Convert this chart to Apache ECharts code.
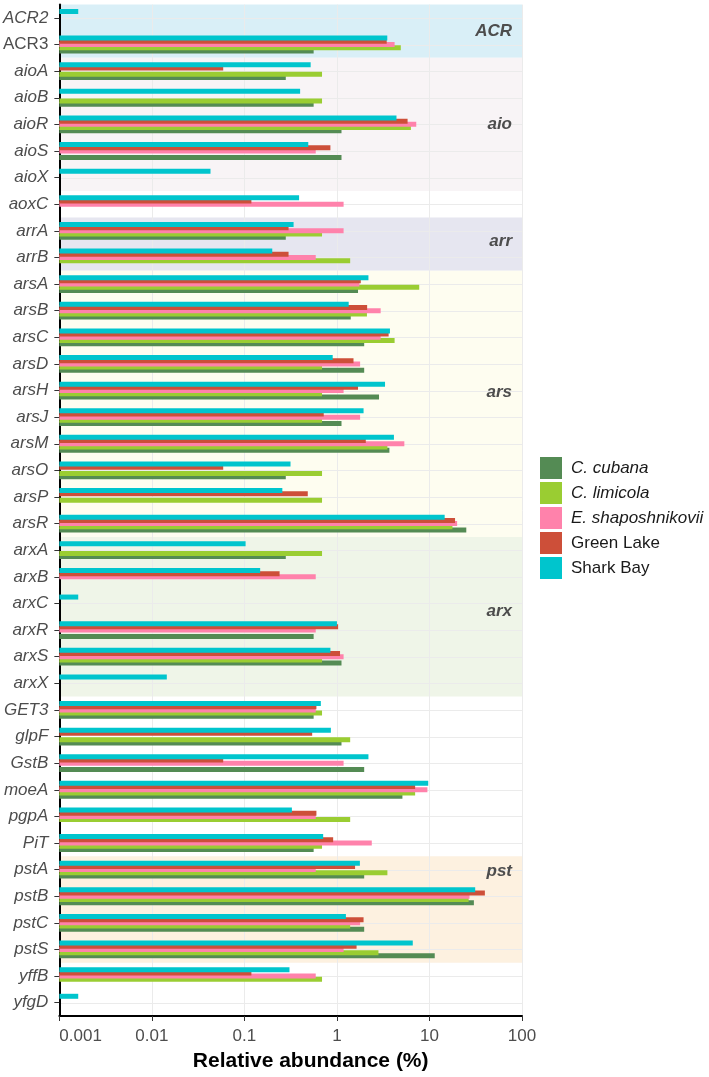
<!DOCTYPE html>
<html>
<head>
<meta charset="utf-8">
<script src="https://cdn.jsdelivr.net/npm/echarts@6/dist/echarts.min.js"></script>
<style>html,body{margin:0;background:#fff}#chart{width:709px;height:1077px}</style>
</head>
<body>
<div id="chart"></div>
<script>
// genes, top to bottom
const genes=["ACR2","ACR3","aioA","aioB","aioR","aioS","aioX","aoxC","arrA","arrB",
  "arsA","arsB","arsC","arsD","arsH","arsJ","arsM","arsO","arsP","arsR",
  "arxA","arxB","arxC","arxR","arxS","arxX","GET3","glpF","GstB","moeA",
  "pgpA","PiT","pstA","pstB","pstC","pstS","yffB","yfgD"];
const uprightGenes=["ACR3"];

// relative abundance (%), null = not found
const sharkBay=[0.0016,3.5,0.52,0.40,4.4,0.49,0.043,0.39,0.34,0.20,2.19,1.34,3.74,0.90,3.31,1.94,4.13,0.315,0.257,14.6,0.103,0.148,0.0016,1.0,0.85,0.0145,0.67,0.86,2.19,9.7,0.326,0.71,1.77,31.2,1.25,6.6,0.307,0.0016];
const greenLake=[null,3.45,0.059,null,5.8,0.85,null,0.119,0.30,0.30,1.81,2.12,3.62,1.51,1.69,0.72,2.05,0.059,0.484,18.9,null,0.24,null,1.03,1.08,null,0.60,0.54,0.059,7.0,0.60,0.91,1.57,39.7,1.94,1.63,0.119,null];
const eShaposhnikovii=[null,4.2,null,null,7.2,0.59,null,1.18,1.18,0.59,1.75,2.97,2.97,1.78,1.18,1.78,5.35,null,null,19.9,null,0.59,null,0.59,1.18,null,0.59,null,1.18,9.5,0.59,2.38,0.59,27.1,1.78,1.18,0.59,null];
const cLimicola=[null,4.9,0.69,0.69,6.3,null,null,null,0.69,1.39,7.75,2.11,4.2,0.69,0.69,0.69,3.51,0.69,0.69,17.7,0.69,null,null,null,0.69,null,0.69,1.39,null,7.0,1.39,0.69,3.51,26.5,1.39,2.81,0.69,null];
const cCubana=[null,0.56,0.28,0.56,1.12,1.12,null,null,0.28,null,1.69,1.41,1.97,1.97,2.85,1.12,3.69,0.28,null,25.0,0.28,null,null,0.56,1.12,null,0.56,1.12,1.97,5.1,null,0.56,1.97,30.2,1.97,11.4,null,null];

const legendOrder=["C. cubana","C. limicola","E. shaposhnikovii","Green Lake","Shark Bay"];
const italicNames=["C. cubana","C. limicola","E. shaposhnikovii"];

// gene groups shaded behind the bars
const groupNames=["ACR","aio","arr","ars","arx","pst"];
const groupFirst=["ACR2","aioA","arrA","arsA","arxA","pstA"];
const groupLast=["ACR3","aioX","arrB","arsR","arxX","pstS"];
const groupLabelRow=[0.5,4,8.4,14.05,22.3,32.05];
const bandColors=["#d9eff7","#f8f4f6","#e6e6f0","#fefdf0","#eff5e8","#fdf1e0"];

const FONT='"Liberation Sans", Arial, sans-serif';

const bars=[
  ["Shark Bay",sharkBay,"#00c5cd"],
  ["Green Lake",greenLake,"#cd4f39"],
  ["E. shaposhnikovii",eShaposhnikovii,"#ff82ab"],
  ["C. limicola",cLimicola,"#9acd32"],
  ["C. cubana",cCubana,"#548b54"]
].map(([name,data,color],i)=>({
  type:"bar",name,data,barWidth:5,barGap:"-36%",z:10-i,
  itemStyle:{color}
}));

const bands={
  type:"custom",z:-2,silent:true,
  encode:{x:0,y:[1,2]},
  data:groupNames.map((g,i)=>[1,genes.indexOf(groupFirst[i]),genes.indexOf(groupLast[i]),i]),
  renderItem:(p,api)=>{
    const a=api.coord([1,api.value(1)]),b=api.coord([1,api.value(2)]);
    const h=api.size([0,1])[1], cs=p.coordSys;
    return {type:"rect",shape:{x:cs.x,y:Math.min(a[1],b[1])-h/2,width:cs.width,height:Math.abs(b[1]-a[1])+h},
      style:{fill:bandColors[p.dataIndex]}};
  }
};

const rowLines={
  type:"custom",z:-1,silent:true,
  encode:{x:0,y:1},
  data:genes.map((g,i)=>[1,i]),
  renderItem:(p,api)=>{
    const y=Math.round(api.coord([1,api.value(1)])[1])+0.5, cs=p.coordSys;
    return {type:"line",shape:{x1:cs.x,y1:y,x2:cs.x+cs.width,y2:y},style:{stroke:"#ebebeb",lineWidth:1}};
  }
};

const groupLabels={
  type:"custom",z:20,silent:true,
  encode:{x:0,y:1},
  data:groupNames.map((g,i)=>[1,Math.floor(groupLabelRow[i])]),
  renderItem:(p,api)=>{
    const pos=groupLabelRow[p.dataIndex], r=Math.floor(pos);
    const h=api.size([0,1])[1], cs=p.coordSys;
    const y=api.coord([1,r])[1]+(pos-r)*h;
    return {type:"text",style:{text:groupNames[p.dataIndex],x:cs.x+cs.width-10,y,
      align:"right",verticalAlign:"middle",fontSize:17,fontWeight:"bold",fontStyle:"italic",
      fontFamily:FONT,fill:"#4d4d4d"}};
  }
};

const chart=echarts.init(document.getElementById("chart"));
chart.setOption({
  animation:false,
  grid:{left:57,right:187,top:4.6,bottom:56.7},
  legend:{
    orient:"vertical",left:535,top:452,itemWidth:22,itemHeight:22,itemGap:3,icon:"rect",
    data:legendOrder,
    formatter:n=>italicNames.includes(n)?`{i|${n}}`:`{n|${n}}`,
    textStyle:{rich:{
      i:{fontStyle:"italic",fontSize:17,color:"#1a1a1a",fontFamily:FONT,padding:[0,0,0,4]},
      n:{fontSize:17,color:"#1a1a1a",fontFamily:FONT,padding:[0,0,0,4]}
    }}
  },
  xAxis:{
    type:"log",logBase:10,min:0.001,max:100,startValue:0.001,
    name:"Relative abundance (%)",nameLocation:"middle",nameGap:35,
    nameTextStyle:{fontSize:21,fontWeight:"bold",color:"#000",fontFamily:FONT,padding:[0,0,0,40]},
    axisLine:{show:true,onZero:false,lineStyle:{color:"#000",width:2}},
    axisTick:{show:true,length:5,lineStyle:{color:"#333"}},
    axisLabel:{fontSize:17,color:"#4d4d4d",fontFamily:FONT,margin:12,alignMinLabel:"left",
      formatter:v=>String(+(+v).toPrecision(2))},
    splitLine:{show:true,lineStyle:{color:"#ebebeb"}}
  },
  yAxis:{
    type:"category",data:genes,inverse:true,
    axisLine:{show:true,onZero:false,lineStyle:{color:"#000",width:2}},
    axisTick:{show:true,alignWithLabel:true,length:5,lineStyle:{color:"#333"}},
    axisLabel:{margin:11,
      formatter:g=>uprightGenes.includes(g)?`{n|${g}}`:`{i|${g}}`,
      rich:{
        i:{fontStyle:"italic",fontSize:17,color:"#4d4d4d",fontFamily:FONT},
        n:{fontSize:17,color:"#4d4d4d",fontFamily:FONT}
      }},
    splitLine:{show:false}
  },
  series:[bands,rowLines,...bars,groupLabels]
});
</script>
</body>
</html>
